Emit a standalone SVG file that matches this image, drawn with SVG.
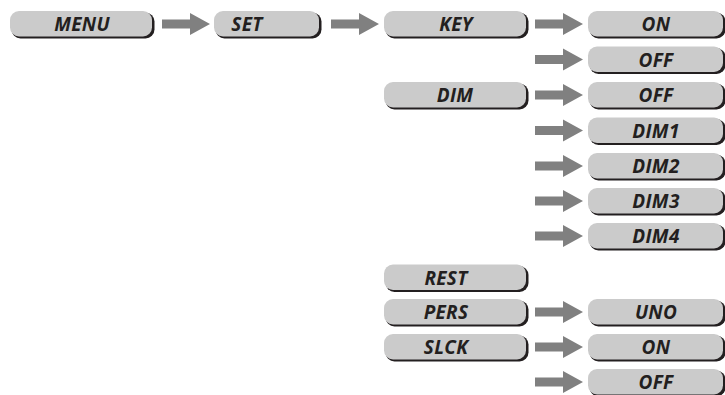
<svg xmlns="http://www.w3.org/2000/svg" width="725" height="395" viewBox="0 0 725 395">
<defs>
<style>
.sh{fill:#231f20}
.bx{fill:#cbcbcb}
.t{font-family:"Open Sans","DejaVu Sans",sans-serif;font-weight:bold;font-style:italic;font-size:19px;letter-spacing:0.3px;fill:#231f20;text-anchor:middle;dominant-baseline:central}
.ar{fill:#808080}
</style>
<g id="arrow"><polygon class="ar" points="0,-4.5 28,-4.5 28,-11 48,0 28,11 28,4.5 0,4.5"/></g>
</defs>
<g id="connectors">
<use href="#arrow" x="162" y="24"/>
<use href="#arrow" x="331" y="24"/>
<use href="#arrow" x="535" y="24"/>
<use href="#arrow" x="535" y="59.5"/>
<use href="#arrow" x="535" y="95"/>
<use href="#arrow" x="535" y="130.5"/>
<use href="#arrow" x="535" y="166"/>
<use href="#arrow" x="535" y="201"/>
<use href="#arrow" x="535" y="236"/>
<use href="#arrow" x="535" y="312"/>
<use href="#arrow" x="535" y="347"/>
<use href="#arrow" x="535" y="382"/>
</g>
<g id="menu"><rect class="sh" x="11.5" y="12.5" width="143" height="26" rx="9"/><rect class="bx" x="10" y="11" width="142" height="25.5" rx="9"/><text class="t" x="82" y="24">MENU</text></g>
<g id="set"><rect class="sh" x="215.5" y="12.5" width="106" height="26" rx="9"/><rect class="bx" x="214" y="11" width="105" height="25.5" rx="9"/><text class="t" x="247" y="24">SET</text></g>
<g id="key"><rect class="sh" x="385.5" y="12.5" width="143" height="26" rx="9"/><rect class="bx" x="384" y="11" width="142" height="25.5" rx="9"/><text class="t" x="456" y="24">KEY</text></g>
<g id="key-on"><rect class="sh" x="589.5" y="12.5" width="136" height="26" rx="9"/><rect class="bx" x="588" y="11" width="135" height="25.5" rx="9"/><text class="t" x="656" y="24">ON</text></g>
<g id="key-off"><rect class="sh" x="589.5" y="48" width="136" height="26" rx="9"/><rect class="bx" x="588" y="46.5" width="135" height="25.5" rx="9"/><text class="t" x="656" y="59.5">OFF</text></g>
<g id="dim"><rect class="sh" x="385.5" y="83.5" width="143" height="26" rx="9"/><rect class="bx" x="384" y="82" width="142" height="25.5" rx="9"/><text class="t" x="455" y="95">DIM</text></g>
<g id="dim-off"><rect class="sh" x="589.5" y="83.5" width="136" height="26" rx="9"/><rect class="bx" x="588" y="82" width="135" height="25.5" rx="9"/><text class="t" x="656" y="95">OFF</text></g>
<g id="dim1"><rect class="sh" x="589.5" y="119" width="136" height="26" rx="9"/><rect class="bx" x="588" y="117.5" width="135" height="25.5" rx="9"/><text class="t" x="656" y="130.5">DIM1</text></g>
<g id="dim2"><rect class="sh" x="589.5" y="154.5" width="136" height="26" rx="9"/><rect class="bx" x="588" y="153" width="135" height="25.5" rx="9"/><text class="t" x="656" y="166">DIM2</text></g>
<g id="dim3"><rect class="sh" x="589.5" y="189.5" width="136" height="26" rx="9"/><rect class="bx" x="588" y="188" width="135" height="25.5" rx="9"/><text class="t" x="656" y="201">DIM3</text></g>
<g id="dim4"><rect class="sh" x="589.5" y="224.5" width="136" height="26" rx="9"/><rect class="bx" x="588" y="223" width="135" height="25.5" rx="9"/><text class="t" x="656" y="236">DIM4</text></g>
<g id="rest"><rect class="sh" x="385.5" y="266" width="143" height="26" rx="9"/><rect class="bx" x="384" y="264.5" width="142" height="25.5" rx="9"/><text class="t" x="446" y="277.5">REST</text></g>
<g id="pers"><rect class="sh" x="385.5" y="300.5" width="143" height="26" rx="9"/><rect class="bx" x="384" y="299" width="142" height="25.5" rx="9"/><text class="t" x="446" y="312">PERS</text></g>
<g id="uno"><rect class="sh" x="589.5" y="300.5" width="136" height="26" rx="9"/><rect class="bx" x="588" y="299" width="135" height="25.5" rx="9"/><text class="t" x="656" y="312">UNO</text></g>
<g id="slck"><rect class="sh" x="385.5" y="335.5" width="143" height="26" rx="9"/><rect class="bx" x="384" y="334" width="142" height="25.5" rx="9"/><text class="t" x="446" y="347">SLCK</text></g>
<g id="slck-on"><rect class="sh" x="589.5" y="335.5" width="136" height="26" rx="9"/><rect class="bx" x="588" y="334" width="135" height="25.5" rx="9"/><text class="t" x="656" y="347">ON</text></g>
<g id="slck-off"><rect class="sh" x="589.5" y="370.5" width="136" height="26" rx="9"/><rect class="bx" x="588" y="369" width="135" height="25.5" rx="9"/><text class="t" x="656" y="382">OFF</text></g>
</svg>
